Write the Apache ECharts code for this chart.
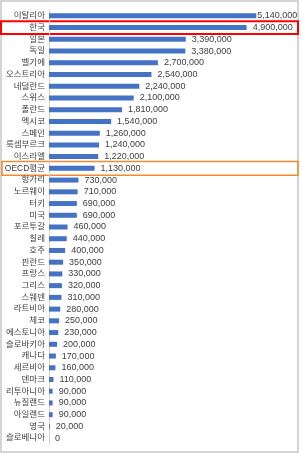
<!DOCTYPE html>
<html><head><meta charset="utf-8">
<script src="https://cdn.jsdelivr.net/npm/echarts@6/dist/echarts.min.js"></script>
<style>html,body{margin:0;padding:0;background:#fff}#c{width:302px;height:454px}</style>
</head><body><div id="c"></div>
<script>
const categories = ['이탈리아','한국','일본','독일','벨기에','오스트리아','네덜란드','스위스','폴란드','멕시코','스페인','룩셈부르크','이스라엘','OECD평균','헝가리','노르웨이','터키','미국','포르투갈','칠레','호주','핀란드','프랑스','그리스','스웨덴','라트비아','체코','에스토니아','슬로바키아','캐나다','세르비아','덴마크','리투아니아','뉴질랜드','아일랜드','영국','슬로베니아'];
const values = [5140000,4900000,3390000,3380000,2700000,2540000,2240000,2100000,1810000,1540000,1260000,1240000,1220000,1130000,730000,710000,690000,690000,460000,440000,400000,350000,330000,320000,310000,280000,250000,230000,200000,170000,160000,110000,90000,90000,90000,20000,0];
const highlightRed = '한국';
const highlightOrange = 'OECD평균';

const chart = echarts.init(document.getElementById('c'), null, {renderer:'canvas'});
const fontFam = "'Liberation Sans','Noto Sans CJK KR',sans-serif";
const data = values.map((v,i)=> i===0 ? {value:v,label:{distance:1}} : v);
chart.setOption({
  animation:false,
  grid:{left:49,right:11,top:10,bottom:10,containLabel:false},
  xAxis:{type:'value',min:0,max:6000000,show:false},
  yAxis:{type:'category',inverse:true,data:categories,
    axisLine:{show:true,lineStyle:{color:'#d0d0d0',width:1}},
    axisTick:{show:false},
    axisLabel:{color:'#404040',fontSize:8.5,fontFamily:fontFam,margin:4,interval:0}},
  series:[{type:'bar',data:data,barWidth:5,itemStyle:{color:'#4472c4'},
    label:{show:true,position:'right',distance:6,color:'#404040',fontSize:9,fontFamily:fontFam,
      formatter:p=>p.value.toLocaleString('en-US')}}]
});
function boxY(name){
  const c = chart.convertToPixel({yAxisIndex:0}, name);
  return c;
}
const band = (chart.convertToPixel({yAxisIndex:0}, categories[1]) - chart.convertToPixel({yAxisIndex:0}, categories[0]));
const yr = boxY(highlightRed), yo = boxY(highlightOrange);
chart.setOption({graphic:[
  {type:'rect',shape:{x:1,y:1,width:297,height:451},style:{fill:'none',stroke:'#c8c8c8',lineWidth:1.5},silent:true},
  {type:'rect',shape:{x:1,y:yr-band*0.55,width:297,height:band*1.1},style:{fill:'none',stroke:'#ff0000',lineWidth:2},silent:true},
  {type:'rect',shape:{x:2,y:yo-band*0.58,width:296,height:band*1.16},style:{fill:'none',stroke:'#f28a2e',lineWidth:1.5},silent:true}
]});
</script></body></html>
